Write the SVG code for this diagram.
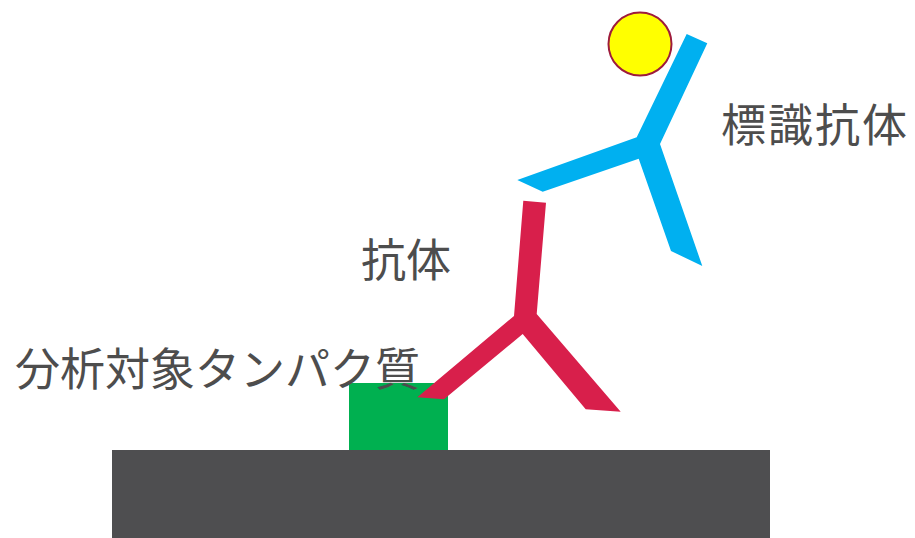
<svg xmlns="http://www.w3.org/2000/svg" width="915" height="538" viewBox="0 0 915 538">
  <style>
    .label { font-family: "Noto Sans CJK JP", "Noto Sans", sans-serif; font-size: 45px; fill: #4d4d4d; }
  </style>
  <rect width="915" height="538" fill="#ffffff"/>

  <!-- substrate -->
  <g id="substrate">
    <rect x="112" y="450" width="658" height="88" fill="#4e4e50"/>
  </g>

  <!-- target protein -->
  <g id="target-protein">
    <rect x="349" y="383" width="99" height="67" fill="#00b050"/>
    <text class="label" x="15" y="386">分析対象タンパク質</text>
  </g>

  <!-- capture antibody -->
  <g id="antibody">
    <polygon points="523.3,200.7 546,202.7 536.7,314 620.7,411.7 585.7,409.3 522.7,334 444,399.3 417.3,397.3 514,316" fill="#d81f4b"/>
    <text class="label" x="361" y="277">抗体</text>
  </g>

  <!-- labelled antibody -->
  <g id="labelled-antibody">
    <polygon points="686.7,34 707.3,43.3 660,144 702.3,266 671,251 638.7,158.7 542.7,191.7 517.3,180 636.7,137.3" fill="#00b0f0"/>
    <circle cx="640" cy="44" r="31.5" fill="#ffff00" stroke="#9e1b3c" stroke-width="2"/>
    <text class="label" x="721" y="142" letter-spacing="2">標識抗体</text>
  </g>

  <g id="connectors"/>
</svg>
